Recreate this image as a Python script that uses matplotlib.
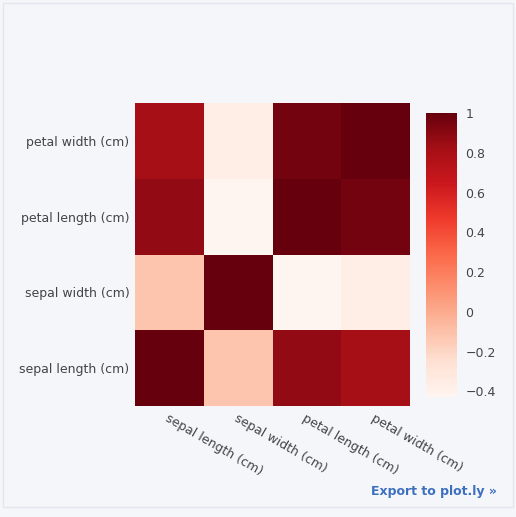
import numpy as np
import matplotlib.pyplot as plt

features = ['sepal length (cm)', 'sepal width (cm)', 'petal length (cm)', 'petal width (cm)']
corr = np.array([
    [1.000, -0.118, 0.872, 0.818],
    [-0.118, 1.000, -0.428, -0.366],
    [0.872, -0.428, 1.000, 0.963],
    [0.818, -0.366, 0.963, 1.000],
])
cbar_ticks = [-0.4, -0.2, 0, 0.2, 0.4, 0.6, 0.8, 1]

bg = '#f5f6fa'
fig = plt.figure(figsize=(5.16, 5.17), dpi=100, facecolor=bg)
ax = fig.add_axes([135/516, 1-406/517, 275/516, 303/517])
im = ax.pcolormesh(corr, cmap='Reds', vmin=corr.min(), vmax=1)
ax.set_xticks(np.arange(4) + 0.5)
ax.set_yticks(np.arange(4) + 0.5)
ax.set_xticklabels(features, rotation=-30, ha='left', va='top', rotation_mode='anchor')
ax.set_yticklabels(features)
ax.tick_params(length=0, labelsize=9, labelcolor='#444444', pad=4)
for s in ax.spines.values():
    s.set_visible(False)

cax = fig.add_axes([426/516, 1-397/517, 31/516, 284/517])
cb = fig.colorbar(im, cax=cax, ticks=cbar_ticks)
cb.ax.set_yticklabels(['\u22120.4', '\u22120.2', '0', '0.2', '0.4', '0.6', '0.8', '1'])
cb.ax.tick_params(length=0, labelsize=9, labelcolor='#444444', pad=6)
cb.outline.set_visible(False)

fig.text(497/516, 1-491/517, 'Export to plot.ly \u00bb', ha='right', va='center',
         color='#3d6fbf', fontsize=9, fontweight='bold')
fig.patches.append(plt.Rectangle((0.006, 0.02), 0.988, 0.975, transform=fig.transFigure,
                                 fill=False, edgecolor='#e4e6ee', lw=1))
fig.savefig('out.png', dpi=100, facecolor=bg)
